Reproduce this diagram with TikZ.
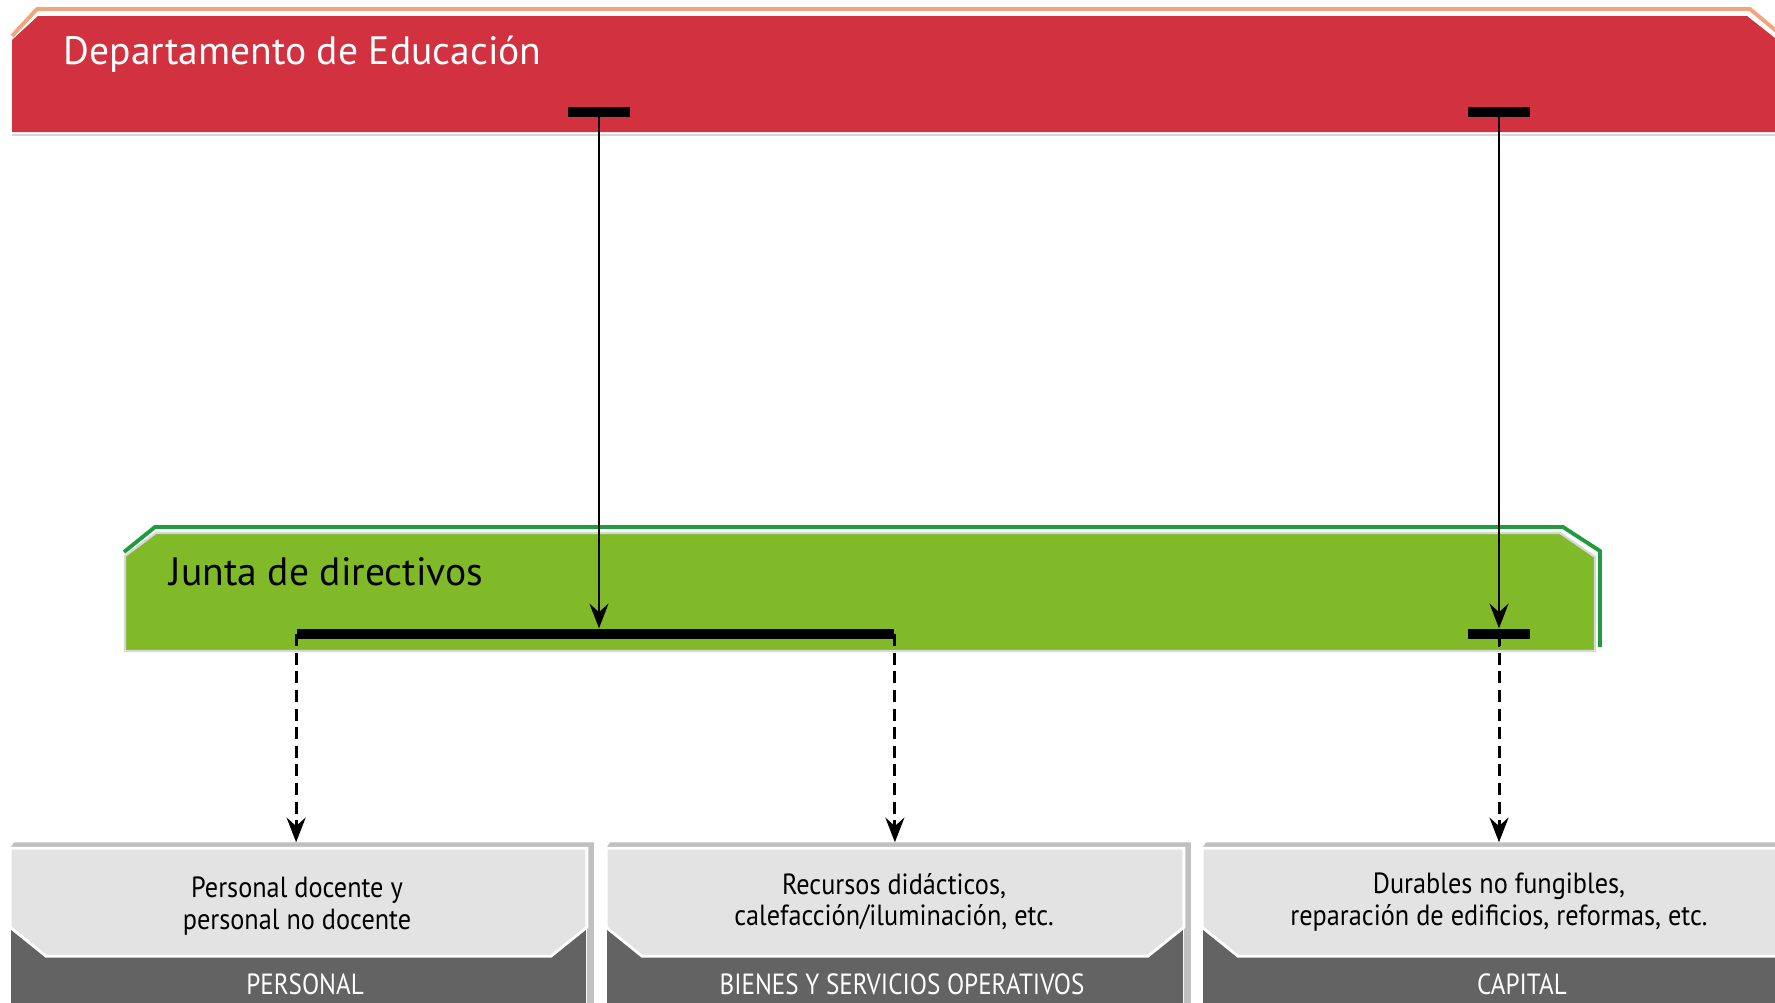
\documentclass[tikz,border=0pt]{standalone}
\usepackage{fontspec}
\setmainfont{PT Sans}
\newfontfamily\boxfont[FakeStretch=0.9]{PT Sans}
\newfontfamily\lblfont[FakeStretch=0.86]{PT Sans}
\usetikzlibrary{arrows.meta,positioning,calc}
\definecolor{cRed}{RGB}{210,50,64}
\definecolor{cPeach}{RGB}{244,164,122}
\definecolor{cGreen}{RGB}{128,186,40}
\definecolor{cDarkGreen}{RGB}{30,156,62}
\definecolor{cLight}{RGB}{227,227,227}
\definecolor{cDark}{RGB}{99,99,99}
\definecolor{cSide}{RGB}{192,192,192}
\definecolor{cEdge}{RGB}{215,215,215}
\tikzset{
  titletext/.style={anchor=west,inner sep=0pt,font=\fontsize{11.25}{13}\selectfont},
  boxtext/.style={align=center,inner sep=0pt,font=\boxfont\fontsize{8.3}{8.9}\selectfont},
  labeltext/.style={inner sep=0pt,text=white,font=\lblfont\fontsize{8.3}{9}\selectfont},
  tbar/.style={rectangle,fill=black,inner sep=0pt,minimum width=0.62cm,minimum height=0.1cm},
  facebox/.style={rectangle,fill=cDark,inner sep=0pt,minimum height=1.54cm},
  lightface/.style={fill=cLight,draw=white,line width=0.8pt},
  sideface/.style={fill=cSide},
  arr/.style={-{Stealth[length=7pt,width=5.4pt,inset=2.4pt]},line width=0.75pt,color=black},
  dasharr/.style={-{Stealth[length=7pt,width=5.4pt,inset=2.4pt]},line width=0.85pt,
                  dash pattern=on 3.4pt off 1.9pt,shorten >=0.06cm}
}
\begin{document}
\begin{tikzpicture}[x=0.01cm,y=-0.01cm]

  \useasboundingbox (0,0) rectangle (1775,1003);
  \clip (0,0) rectangle (1775,1003);
  \fill[white] (0,0) rectangle (1775,1003);

  \draw[cPeach,line width=1.1pt] (12,36) -- (37,9) -- (1750,9) -- (1780,34);
  \fill[cRed] (12,40) -- (38,16) -- (1747,16) -- (1780,42) -- (1780,132) -- (12,132) -- cycle;
  \draw[cEdge,line width=0.8pt] (12,135) -- (1775,135);
  \node[titletext,text=white] (deptTitle) at (63,54) {Departamento de Educación};

  \draw[cDarkGreen,line width=1.1pt] (124,552) -- (155,527) -- (1563,527) -- (1600,551) -- (1600,647);
  \filldraw[fill=cGreen,draw=cEdge,line width=0.6pt]
      (125,556) -- (156,533) -- (1560,533) -- (1595,557) -- (1595,651) -- (125,651) -- cycle;
  \node[titletext] (juntaTitle) at (169,572) {Junta de directivos};

  \node[tbar] (depL) at (599,112) {};
  \node[tbar] (depR) at (1499,112) {};
  \node[tbar,minimum width=5.97cm] (jbar) at (595.5,634) {};
  \node[tbar] (junR) at (1499,634) {};

  \node[facebox,minimum width=5.75cm] (personal) at (298.5,926) {};
  \node[facebox,minimum width=5.76cm] (bienes) at (895,926) {};
  \node[facebox,minimum width=6.27cm] (capital) at (1516.5,926) {};

  \fill[sideface] ($(personal.north west)+(4,-6)$) -- ($(personal.north east)+(7,-6)$)
      -- ($(personal.south east)+(7,0)$) -- (personal.south east) -- (personal.north east)
      -- (personal.north west) -- cycle;
  \filldraw[lightface] (personal.north west) -- (personal.north east)
      -- ($(personal.north east)+(0,79)$) -- ($(personal.north east)+(-36,108)$)
      -- ($(personal.north west)+(36,108)$) -- ($(personal.north west)+(0,79)$) -- cycle;

  \fill[sideface] ($(bienes.north west)+(4,-6)$) -- ($(bienes.north east)+(7,-6)$)
      -- ($(bienes.south east)+(7,0)$) -- (bienes.south east) -- (bienes.north east)
      -- (bienes.north west) -- cycle;
  \filldraw[lightface] (bienes.north west) -- (bienes.north east)
      -- ($(bienes.north east)+(0,79)$) -- ($(bienes.north east)+(-36,108)$)
      -- ($(bienes.north west)+(36,108)$) -- ($(bienes.north west)+(0,79)$) -- cycle;

  \fill[sideface] ($(capital.north west)+(4,-6)$) -- ($(capital.north east)+(7,-6)$)
      -- ($(capital.south east)+(7,0)$) -- (capital.south east) -- (capital.north east)
      -- (capital.north west) -- cycle;
  \filldraw[lightface] (capital.north west) -- (capital.north east)
      -- ($(capital.north east)+(0,79)$) -- ($(capital.north east)+(-36,108)$)
      -- ($(capital.north west)+(36,108)$) -- ($(capital.north west)+(0,79)$) -- cycle;

  \node[boxtext] (personalTxt) at (297,906) {Personal docente y\\personal no docente};
  \node[boxtext] (bienesTxt) at (894,902) {Recursos didácticos,\\calefacción/iluminación, etc.};
  \node[boxtext] (capitalTxt) at (1499,902) {Durables no fungibles,\\reparación de edificios, reformas, etc.};

  \node[labeltext] (personalLbl) at (305,984) {PERSONAL};
  \node[labeltext] (bienesLbl) at (902,984) {BIENES Y SERVICIOS OPERATIVOS};
  \node[labeltext] (capitalLbl) at (1522,984) {CAPITAL};

  \draw[arr] (depL.center) -- (depL.center |- jbar.north);
  \draw[arr] (depR.center) -- (junR.north);
  \draw[line width=0.75pt] (junR.center) -- ++(0,13);

  \draw[dasharr] (jbar.west) -- (jbar.west |- personal.north);
  \draw[dasharr] (jbar.east) -- (jbar.east |- bienes.north);
  \draw[dasharr] (junR.center) -- (junR.center |- capital.north);

\end{tikzpicture}
\end{document}
